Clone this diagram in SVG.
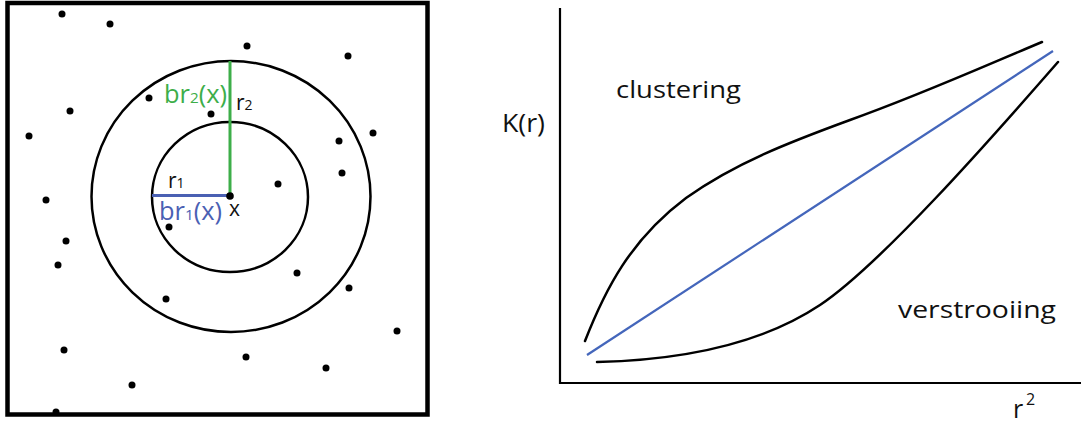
<svg xmlns="http://www.w3.org/2000/svg" width="1081" height="423" viewBox="0 0 1081 423">
<style>
  .t { font-family: "Open Sans", "Noto Sans", sans-serif; fill: #111; }
  .dot { fill: #000; }
  .ring { fill: none; stroke: #000; stroke-width: 2.5; }
  .curve { fill: none; stroke: #000; stroke-width: 2.5; stroke-linecap: round; }
  .axis { fill: none; stroke: #000; stroke-width: 2.2; }
</style>
<rect width="1081" height="423" fill="#fff"/>
<g id="field">
  <rect x="7.5" y="3" width="420" height="411.5" fill="none" stroke="#000" stroke-width="4.5"/>
  <ellipse class="ring" cx="231" cy="196.5" rx="139.5" ry="135.5"/>
  <ellipse class="ring" cx="230" cy="197" rx="78" ry="75"/>
  <line x1="230" y1="61" x2="230" y2="196" stroke="#3dae49" stroke-width="3"/>
  <line x1="152" y1="195.5" x2="230" y2="195.5" stroke="#4a60b3" stroke-width="3"/>
  <g id="points">
    <circle class="dot" cx="230" cy="196" r="3.8"/>
    <circle class="dot" cx="62" cy="14" r="3.5"/>
    <circle class="dot" cx="110" cy="24" r="3.5"/>
    <circle class="dot" cx="247" cy="46" r="3.5"/>
    <circle class="dot" cx="348" cy="56" r="3.5"/>
    <circle class="dot" cx="149" cy="98" r="3.5"/>
    <circle class="dot" cx="70" cy="111" r="3.5"/>
    <circle class="dot" cx="211" cy="114" r="3.5"/>
    <circle class="dot" cx="29" cy="136" r="3.5"/>
    <circle class="dot" cx="373" cy="133" r="3.5"/>
    <circle class="dot" cx="339" cy="141" r="3.5"/>
    <circle class="dot" cx="342" cy="173" r="3.5"/>
    <circle class="dot" cx="278" cy="184" r="3.5"/>
    <circle class="dot" cx="46" cy="200" r="3.5"/>
    <circle class="dot" cx="169" cy="227" r="3.5"/>
    <circle class="dot" cx="66" cy="241" r="3.5"/>
    <circle class="dot" cx="58" cy="265" r="3.5"/>
    <circle class="dot" cx="297" cy="273" r="3.5"/>
    <circle class="dot" cx="349" cy="288" r="3.5"/>
    <circle class="dot" cx="166" cy="299" r="3.5"/>
    <circle class="dot" cx="397" cy="331" r="3.5"/>
    <circle class="dot" cx="64" cy="350" r="3.5"/>
    <circle class="dot" cx="246" cy="357" r="3.5"/>
    <circle class="dot" cx="326" cy="368" r="3.5"/>
    <circle class="dot" cx="132" cy="385" r="3.5"/>
    <circle class="dot" cx="56" cy="412" r="3.5"/>
  </g>
  <text class="t" x="164" y="103" font-size="25" style="fill:#3dae49" textLength="63" lengthAdjust="spacingAndGlyphs">br<tspan font-size="15">2</tspan>(x)</text>
  <text class="t" x="236" y="110" font-size="21">r<tspan font-size="14">2</tspan></text>
  <text class="t" x="168" y="188" font-size="21">r<tspan font-size="14">1</tspan></text>
  <text class="t" x="159" y="220" font-size="25" style="fill:#4a60b3" textLength="63" lengthAdjust="spacingAndGlyphs">br<tspan font-size="15">1</tspan>(x)</text>
  <text class="t" x="229" y="216" font-size="21">x</text>
</g>
<g id="plot">
  <polyline class="axis" points="560,8 560,383 1081,383"/>
  <path class="curve" d="M585,341 C605,290 630,240 686,198 C735,163 790,142 850,120 C920,95 980,68 1042,42"/>
  <path class="curve" d="M597,362 C680,360 760,345 820,305 C880,265 990,140 1058,62"/>
  <line x1="587" y1="355" x2="1053" y2="51" stroke="#4466bb" stroke-width="2.2"/>
  <text class="t" x="502" y="132" font-size="26" textLength="43" lengthAdjust="spacingAndGlyphs">K(r)</text>
  <text class="t" x="616" y="98" font-size="23" textLength="125" lengthAdjust="spacingAndGlyphs">clustering</text>
  <text class="t" x="898" y="318" font-size="23" textLength="158" lengthAdjust="spacingAndGlyphs">verstrooiing</text>
  <text class="t" x="1013" y="418" font-size="25">r</text>
  <text class="t" x="1026" y="405" font-size="16">2</text>
</g>
</svg>
